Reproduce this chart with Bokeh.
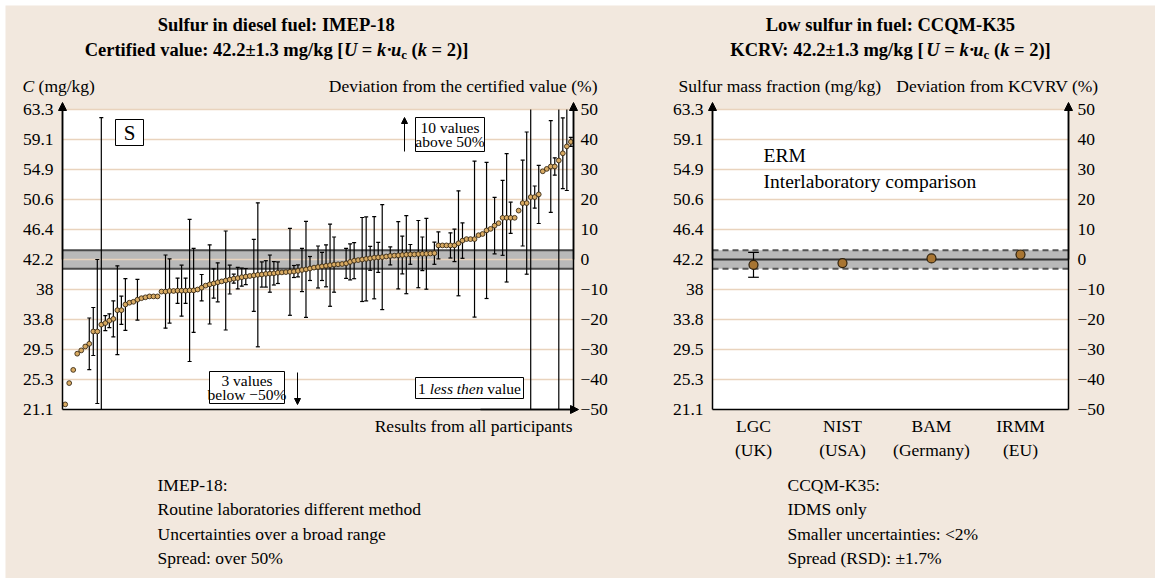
from bokeh.plotting import figure
from bokeh.models import Range1d, LinearAxis, FixedTicker, Label, Arrow, NormalHead, BoxAnnotation
from bokeh.embed import file_html
from bokeh.resources import INLINE

# ---------------- data ----------------
certified_value = 42.2      # mg/kg
expanded_unc = 1.3          # mg/kg, U = k*uc (k = 2)
dev_ticks = [-50, -40, -30, -20, -10, 0, 10, 20, 30, 40, 50]
conc_tick_labels = ["21.1", "25.3", "29.5", "33.8", "38", "42.2", "46.4", "50.6", "54.9", "59.1", "63.3"]
dev_tick_labels = ["\u221250", "\u221240", "\u221230", "\u221220", "\u221210", "0", "10", "20", "30", "40", "50"]

# IMEP-18: deviation from certified value (%) and expanded uncertainty (%), sorted participants
imep_dev_pct = [
    -48.3, -41.2, -36.8, -31.4, -30.3, -29.0, -28.1, -24.0, -24.0, -21.7,
    -21.2, -20.4, -19.8, -16.9, -16.9, -15.0, -14.4, -14.1, -13.4, -12.9,
    -12.6, -12.3, -12.3, -12.3, -10.7, -10.7, -10.5, -10.5, -10.4, -10.4,
    -10.4, -10.3, -10.3, -10.0, -9.4, -8.7, -8.3, -8.0, -7.6, -7.3,
    -7.0, -6.7, -6.4, -6.2, -5.9, -5.7, -5.5, -5.3, -5.1, -5.0,
    -4.8, -4.7, -4.6, -4.4, -4.3, -4.2, -4.1, -4.0, -3.8, -3.5,
    -3.3, -3.0, -2.7, -2.5, -2.3, -2.1, -1.9, -1.7, -1.6, -1.5,
    -1.3, -0.8, -0.4, -0.2, 0.0, 0.2, 0.4, 0.6, 0.7, 0.8,
    1.0, 1.2, 1.3, 1.4, 1.5, 1.6, 1.7, 1.7, 1.8, 1.9,
    1.9, 2.0, 2.1, 4.7, 4.7, 4.7, 4.7, 4.7, 5.4, 6.3,
    6.8, 6.8, 6.8, 8.1, 8.5, 9.7, 10.2, 11.3, 12.1, 13.9,
    13.9, 13.9, 13.9, 16.3, 18.8, 18.8, 20.8, 20.8, 21.7, 29.4,
    30.2, 31.0, 31.0, 33.0, 35.4, 37.7, 39.2,
]
imep_unc_pct = [
    0, 0, 0, 0, 0, 0, 8.6, 8.0, 24.0, 69.0,
    2.5, 2.3, 6.0, 14.8, 4.7, 8.6, 0, 0, 6.8, 0,
    0, 0, 0, 0, 0, 12.2, 10.7, 0, 4.2, 8.5,
    4.2, 23.7, 14.0, 0, 4.4, 0, 13.2, 4.9, 6.5, 0,
    16.5, 4.8, 1.5, 3.6, 3.0, 2.7, 0, 12.0, 24.0, 4.2,
    4.4, 6.2, 3.9, 3.6, 0, 0, 14.5, 2.0, 2.0, 7.2,
    16.0, 4.0, 0, 7.0, 4.7, 7.0, 13.7, 9.2, 0, 0,
    5.0, 6.0, 6.0, 0, 14.0, 14.0, 4.0, 13.7, 5.0, 17.5,
    0, 3.0, 0, 11.2, 6.3, 13.0, 3.3, 0, 11.2, 5.6,
    11.8, 0, 3.7, 4.5, 0, 0, 4.2, 5.4, 17.5, 5.9,
    0, 0, 26.0, 0, 0, 22.7, 0, 9.4, 0, 12.5,
    21.4, 5.2, 0, 0, 14.3, 23.7, 120.0, 3.7, 9.7, 0,
    0, 15.3, 2.9, 120.0, 11.8, 14.7, 1.5,
]

# CCQM-K35
k35_labs = ["LGC", "NIST", "BAM", "IRMM"]
k35_countries = ["(UK)", "(USA)", "(Germany)", "(EU)"]
k35_values = [41.45, 41.7, 42.35, 42.9]     # mg/kg
k35_unc = [1.75, 0.0, 0.0, 0.0]             # mg/kg

# ---------------- styling / layout (page pixels) ----------------
FONT = "Liberation Serif"
BG = "#f2e8de"
GRID = "#e9d3bd"
BAND = "#b9b9b9"
TXT = "17.5px"
OX, OY = 5, 5                     # white strip left / top
CW, CH = 1150, 573                # canvas
FT, FB = 109, 409                 # plot areas top / bottom
L_FL, L_FR = 62, 573              # left plot area
R_FL, R_FR = 712, 1068            # right plot area
T1, T2, TA = 24, 49, 85           # title line 1, title line 2, axis titles (centre y)


def rank(px):   # participant axis (left panel)
    return 1 + (px - 64.7) / 4.013


def cat(px):    # laboratory axis (right panel)
    return 1 + (px - 753.0) / 89.0


def Y(py):      # deviation (%) axis, shared
    return 50 - (py - FT) * 100.0 / (FB - FT)


# Times-compatible advance widths (per 1000 em) for rich-text placement
_UP = "ABCDEFGHIJKLMNOPQRSTUVWXYZ"
_LO = "abcdefghijklmnopqrstuvwxyz"
W = {
    "normal": {**dict(zip(" !%()+,-./", [250, 333, 833, 333, 333, 564, 250, 333, 250, 278])),
               **{d: 500 for d in "0123456789"},
               **dict(zip(":<=>[]\u00b1\u00b7\u2212", [278, 564, 564, 564, 333, 333, 564, 250, 564])),
               **dict(zip(_UP, [722, 667, 667, 722, 611, 556, 722, 722, 333, 389, 722, 611, 889, 722, 722,
                                556, 722, 667, 556, 611, 722, 722, 944, 722, 722, 611])),
               **dict(zip(_LO, [444, 500, 444, 500, 444, 333, 500, 500, 278, 278, 500, 278, 778, 500, 500,
                                500, 500, 333, 389, 278, 500, 500, 722, 500, 500, 444]))},
    "bold": {**dict(zip(" ()-./:=[]\u00b1\u00b7", [250, 333, 333, 333, 250, 278, 333, 570, 333, 333, 570, 250])),
             **{d: 500 for d in "0123456789"},
             **dict(zip(_UP, [722, 667, 722, 722, 667, 611, 778, 778, 389, 500, 778, 667, 944, 722, 778,
                              611, 778, 722, 556, 667, 722, 722, 1000, 722, 722, 667])),
             **dict(zip(_LO, [500, 556, 444, 556, 444, 333, 500, 556, 278, 333, 556, 278, 833, 556, 500,
                              556, 556, 444, 389, 333, 556, 500, 722, 500, 500, 444]))},
    "italic": {" ": 250, "C": 667,
               **dict(zip(_LO, [500, 500, 444, 500, 444, 278, 500, 500, 278, 278, 444, 278, 722, 500, 500,
                                500, 500, 389, 389, 278, 500, 444, 667, 444, 444, 389]))},
    "bold italic": {" ": 250, "U": 722, "k": 500, "u": 556, "c": 444},
}


def tw(text, style, size):
    tbl = W[style]
    return sum(tbl.get(ch, 500) for ch in text) * size / 1000.0


x_range = Range1d(rank(OX), rank(OX + CW))
y_range = Range1d(Y(OY + CH), Y(OY))
p = figure(width=CW, height=CH, x_range=x_range, y_range=y_range,
           x_axis_location=None, y_axis_location=None,
           output_backend="svg", toolbar_location=None,
           min_border=0, min_border_left=0, min_border_right=0, min_border_top=0, min_border_bottom=0,
           background_fill_color=BG, border_fill_color=BG, outline_line_color=None,
           margin=(OY, 0, 0, OX))
p.extra_x_ranges = {"cat": Range1d(cat(OX), cat(OX + CW))}
p.xgrid.visible = False
p.ygrid.visible = False


def label(px, py, text, size=TXT, align="left", style="normal"):
    p.add_layout(Label(x=rank(px), y=Y(py), text=text, text_font=FONT, text_font_size=size,
                       text_font_style=style, text_align=align, text_baseline="middle",
                       text_color="black"))


def rich(x_start, cy, segs, size):
    x = x_start
    for t, st, sc, dy in segs:
        fs = size * sc
        lead = len(t) - len(t.lstrip(" "))
        core = t.strip(" ")
        if core:
            label(x + tw(" " * lead, st, fs), cy + dy, core, size=f"{fs:.1f}px", style=st)
        x += tw(t, st, fs)


def rich_center(cx, cy, segs, size):
    total = sum(tw(t, st, size * sc) for t, st, sc, dy in segs)
    rich(cx - total / 2.0, cy, segs, size)


def cert_segs(prefix):
    return [(prefix + " [", "bold", 1, 0), ("U", "bold italic", 1, 0), (" = ", "bold", 1, 0),
            ("k", "bold italic", 1, 0), ("\u00b7", "bold", 1, 0), ("u", "bold italic", 1, 0),
            ("c", "bold", 0.7, 5), (" (", "bold", 1, 0), ("k", "bold italic", 1, 0),
            (" = 2)]", "bold", 1, 0)]


def style_axis(ax, standoff):
    ax.major_tick_line_color = None
    ax.minor_tick_line_color = None
    ax.major_tick_in = 0
    ax.major_tick_out = 0
    ax.axis_line_color = "black"
    ax.axis_line_width = 1.5
    ax.major_label_text_font = FONT
    ax.major_label_text_font_size = TXT
    ax.major_label_text_color = "black"
    ax.major_label_standoff = standoff


def y_axis(xloc, side, labels, rname, standoff):
    ax = LinearAxis(ticker=FixedTicker(ticks=dev_ticks), major_label_overrides=dict(zip(dev_ticks, labels)),
                    fixed_location=xloc, bounds=(-50, 50), x_range_name=rname)
    style_axis(ax, standoff)
    p.add_layout(ax, side)


def arrow(x0, y0, x1, y1, size=8, lw=1.5, rname="default"):
    p.add_layout(Arrow(end=NormalHead(size=size, fill_color="black", line_color="black", line_width=1),
                       x_start=x0, y_start=y0, x_end=x1, y_end=y1, x_range_name=rname,
                       line_color="black", line_width=lw))


def box(x0, x1, y0, y1):
    p.add_layout(BoxAnnotation(left=rank(x0), right=rank(x1), top=Y(y0), bottom=Y(y1),
                               fill_color="white", fill_alpha=1.0, line_color="black",
                               line_width=1, line_alpha=1.0))


band_pct = expanded_unc / certified_value * 100.0
grid_ticks = [t for t in dev_ticks if t != -50]


def panel_background(x0, x1, rname, dashed):
    p.quad(left=[x0], right=[x1], bottom=[-50], top=[50], fill_color="white", line_color=None,
           x_range_name=rname)
    p.segment(x0=[x0] * len(grid_ticks), x1=[x1] * len(grid_ticks), y0=grid_ticks, y1=grid_ticks,
              line_color=GRID, line_width=1.5, x_range_name=rname)
    p.quad(left=[x0], right=[x1], bottom=[-band_pct], top=[band_pct], fill_color=BAND, line_color=None,
           x_range_name=rname)
    if dashed:
        p.segment(x0=[x0, x0], x1=[x1, x1], y0=[-band_pct, band_pct], y1=[-band_pct, band_pct],
                  line_color="#555555", line_width=2, line_dash="6 4", x_range_name=rname)
        p.segment(x0=[x0], x1=[x1], y0=[0], y1=[0], line_color="#333333", line_width=2, x_range_name=rname)
    else:
        p.segment(x0=[x0, x0], x1=[x1, x1], y0=[-band_pct, band_pct], y1=[-band_pct, band_pct],
                  line_color="#4a4a4a", line_width=2, x_range_name=rname)
        p.segment(x0=[x0], x1=[x1], y0=[0], y1=[0], line_color=GRID, line_width=1.5, x_range_name=rname)


def error_bars(xs, ds, us, cap, rname):
    bx, blo, bhi = [], [], []
    for x, d, u in zip(xs, ds, us):
        if u > 0:
            bx.append(x)
            blo.append(d - u)
            bhi.append(d + u)
    p.segment(x0=bx, x1=bx, y0=[max(v, -50) for v in blo], y1=[min(v, 50) for v in bhi],
              line_color="black", line_width=1.2, x_range_name=rname)
    tops = [(x, v) for x, v in zip(bx, bhi) if v <= 50]
    bots = [(x, v) for x, v in zip(bx, blo) if v >= -50]
    for pts in (tops, bots):
        p.segment(x0=[x - cap for x, v in pts], x1=[x + cap for x, v in pts],
                  y0=[v for x, v in pts], y1=[v for x, v in pts],
                  line_color="black", line_width=1.2, x_range_name=rname)


# ================= LEFT: IMEP-18 =================
lx0, lx1 = rank(L_FL), rank(L_FR)
panel_background(lx0, lx1, "default", False)
ranks = list(range(1, len(imep_dev_pct) + 1))
error_bars(ranks, imep_dev_pct, imep_unc_pct, 0.5, "default")
p.scatter(x=ranks, y=imep_dev_pct, size=4.8, fill_color="#d8aa62", line_color="#3a2a14", line_width=0.9)

y_axis(lx0, "left", conc_tick_labels, "default", 9)
y_axis(lx1, "right", dev_tick_labels, "default", 7)
bx_axis = LinearAxis(ticker=FixedTicker(ticks=[]), fixed_location=-50, bounds=(lx0, lx1))
style_axis(bx_axis, 9)
p.add_layout(bx_axis, "below")

arrow(lx0, 0, lx0, Y(102))
arrow(lx1, 0, lx1, Y(102))
arrow(rank(480), -50, rank(578), -50)

rich_center(276, T1, [("Sulfur in diesel fuel: IMEP-18", "bold", 1, 0)], 18.5)
rich_center(276, T2, cert_segs(f"Certified value: {certified_value}\u00b1{expanded_unc} mg/kg"), 18.5)
rich(22, TA, [("C", "italic", 1, 0), (" (mg/kg)", "normal", 1, 0)], 17.5)
label(597, TA, "Deviation from the certified value (%)", align="right")
label(572, 425, "Results from all participants", align="right")

box(115, 143, 119, 145)
label(129, 132, "S", size="21px", align="center")

box(415, 484, 117, 151)
label(449.5, 127, "10 values", size="15.5px", align="center")
label(449.5, 141, "above 50%", size="15.5px", align="center")
arrow(rank(404), Y(151), rank(404), Y(117), size=6, lw=1)

box(209, 284, 371, 403)
label(246.5, 380, "3 values", size="15.5px", align="center")
label(246.5, 394, "below \u221250%", size="15.5px", align="center")
arrow(rank(297), Y(372), rank(297), Y(404), size=6, lw=1)

box(415, 523, 377, 398)
rich_center(469, 388, [("1 ", "normal", 1, 0), ("less then", "italic", 1, 0), (" value", "normal", 1, 0)], 15.5)

for i, line in enumerate(["IMEP-18:", "Routine laboratories different method",
                          "Uncertainties over a broad range", "Spread: over 50%"]):
    label(157, 484 + 24.5 * i, line)

# ================= RIGHT: CCQM-K35 =================
rx0, rx1 = cat(R_FL), cat(R_FR)
panel_background(rx0, rx1, "cat", True)
cat_pos = list(range(1, len(k35_labs) + 1))
k35_dev = [(v / certified_value - 1) * 100.0 for v in k35_values]
k35_u = [u / certified_value * 100.0 for u in k35_unc]
error_bars(cat_pos, k35_dev, k35_u, 0.06, "cat")
p.scatter(x=cat_pos, y=k35_dev, size=9, fill_color="#a87532", line_color="#2e200c", line_width=1.2,
          x_range_name="cat")

y_axis(rx0, "left", conc_tick_labels, "cat", 9)
y_axis(rx1, "right", dev_tick_labels, "cat", 9)
cx_axis = LinearAxis(x_range_name="cat", ticker=FixedTicker(ticks=cat_pos), fixed_location=-50,
                     bounds=(rx0, rx1),
                     major_label_overrides={c: f"{a}\n{b}" for c, a, b in zip(cat_pos, k35_labs, k35_countries)})
style_axis(cx_axis, 6)
p.add_layout(cx_axis, "below")

arrow(rx0, 0, rx0, Y(102), rname="cat")
arrow(rx1, 0, rx1, Y(102), rname="cat")

rich_center(890, T1, [("Low sulfur in fuel: CCQM-K35", "bold", 1, 0)], 18.5)
rich_center(890, T2, cert_segs(f"KCRV: {certified_value}\u00b1{expanded_unc} mg/kg"), 18.5)
label(678, TA, "Sulfur mass fraction (mg/kg)")
label(1098, TA, "Deviation from KCVRV (%)", align="right")

label(763, 155, "ERM", size="19.5px")
label(763, 181, "Interlaboratory comparison", size="19.5px")

for i, line in enumerate(["CCQM-K35:", "IDMS only", "Smaller uncertainties: <2%", "Spread (RSD): \u00b11.7%"]):
    label(787, 484 + 24.5 * i, line)

open("out.html", "w").write(file_html(p, INLINE))
